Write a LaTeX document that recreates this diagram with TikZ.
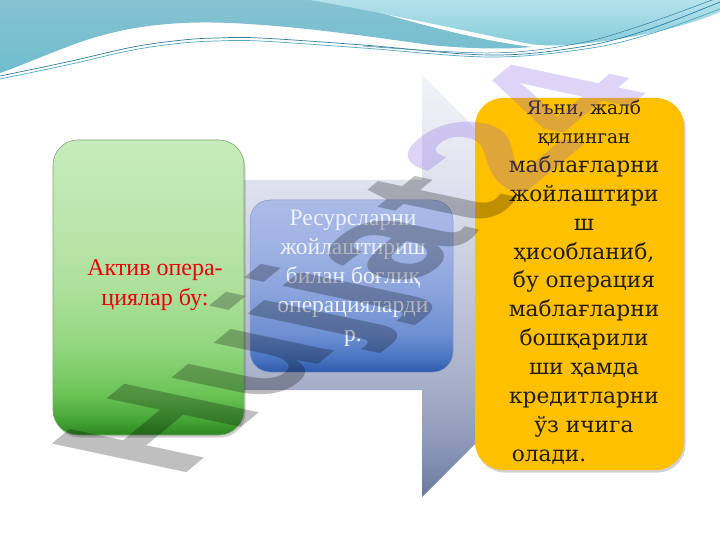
\documentclass[tikz,border=0pt]{standalone}
\usepackage{fontspec}
\setmainfont{Liberation Serif}
\newfontfamily\dvserif{DejaVu Serif}
\newfontfamily\wmsans{Liberation Sans}
\usetikzlibrary{shadows}

\definecolor{gold}{HTML}{FFC000}
\definecolor{txtRed}{HTML}{E8000B}
\definecolor{txtWhite}{HTML}{EEF2FA}
\definecolor{txtDark}{HTML}{221D14}
\definecolor{waveLine}{HTML}{2E7FA3}
\definecolor{waveLineB}{HTML}{4FA8C4}
\definecolor{wmPurple}{HTML}{7D55E1}
\definecolor{tealA}{HTML}{86C2D1}
\definecolor{tealB}{HTML}{6FBDCE}
\definecolor{tealC}{HTML}{B5E2EA}
\definecolor{tealD}{HTML}{86CCDA}

\definecolor{g1}{HTML}{2C8620}
\definecolor{g2}{HTML}{45A436}
\definecolor{g3}{HTML}{6CC457}
\definecolor{g4}{HTML}{92D67E}
\definecolor{g5}{HTML}{AEE09C}
\definecolor{g6}{HTML}{BCE6AE}
\definecolor{g7}{HTML}{C6ECBB}
\pgfdeclareverticalshading{greenfill}{100bp}{color(0bp)=(g1); color(25bp)=(g1); color(27.5bp)=(g2); color(32bp)=(g3); color(40bp)=(g4); color(50bp)=(g5); color(62bp)=(g6); color(75bp)=(g7); color(100bp)=(g7)}

\definecolor{b1}{HTML}{2D5AAA}
\definecolor{b2}{HTML}{4A74C2}
\definecolor{b3}{HTML}{6E8FD2}
\definecolor{b4}{HTML}{8AA3DC}
\definecolor{b5}{HTML}{A0B3E4}
\definecolor{b6}{HTML}{AABBE8}
\pgfdeclareverticalshading{bluefill}{100bp}{color(0bp)=(b1); color(25bp)=(b1); color(29bp)=(b2); color(36bp)=(b3); color(48bp)=(b4); color(62bp)=(b5); color(75bp)=(b6); color(100bp)=(b6)}

\definecolor{a1}{HTML}{6A79A0}
\definecolor{a2}{HTML}{8C97B8}
\definecolor{a3}{HTML}{A6AEC8}
\definecolor{a4}{HTML}{C3C9DC}
\definecolor{a5}{HTML}{DFE2EE}
\definecolor{a6}{HTML}{F2F3F9}
\pgfdeclareverticalshading{arrowfill}{100bp}{color(0bp)=(a1); color(25bp)=(a1); color(31bp)=(a2); color(38bp)=(a3); color(50bp)=(a4); color(62bp)=(a5); color(75bp)=(a6); color(100bp)=(a6)}

\begin{document}
\begin{tikzpicture}[x=1pt,y=-1pt,
  boxshadow/.style={drop shadow={shadow xshift=1.5pt, shadow yshift=-2.5pt, opacity=0.18, fill=black}},
  gbox/.style={rounded corners=25pt, shading=greenfill, draw={rgb,255:red,127;green,168;blue,120}, line width=0.6pt, minimum width=191pt, minimum height=295pt, inner sep=0, boxshadow},
  bbox/.style={rounded corners=20pt, shading=bluefill, draw={rgb,255:red,140;green,156;blue,200}, line width=0.5pt, minimum width=203pt, minimum height=172pt, inner sep=0},
  obox/.style={rounded corners=28pt, fill=gold, minimum width=209pt, minimum height=372pt, inner sep=0, boxshadow},
  gtext/.style={align=center, inner sep=0, text=txtRed, font=\fontsize{24}{30}\selectfont},
  btext/.style={align=center, inner sep=0, text=txtWhite, font=\fontsize{23.5}{29}\selectfont},
  otext/.style={align=center, inner sep=0, text=txtDark, font=\dvserif\fontsize{21.7}{28.9}\selectfont},
  wave/.style={line width=0.7pt, smooth, tension=0.6}
]
\useasboundingbox (0,0) rectangle (720,540);
\clip (0,0) rectangle (720,540);
\fill[white] (0,0) rectangle (720,540);

% top decoration
\shade[top color=tealA, bottom color=tealB] (0,0) -- (335,0) .. controls (390,15) and (460,38) .. (532,47) .. controls (500,50) and (460,48) .. (430,45) .. controls (380,38) and (300,26) .. (230,23) .. controls (160,20) and (110,30) .. (67,47) .. controls (40,57) and (20,66) .. (0,73) -- cycle;
\shade[top color=tealC, bottom color=tealD] (310,0) -- (720,0) -- (720,12) .. controls (690,25) and (640,38) .. (580,44) .. controls (560,46) and (545,46) .. (530,44) .. controls (470,32) and (380,12) .. (310,0) -- cycle;
\draw[wave, waveLine] plot coordinates {(0,76) (67,62) (133,47) (183,40) (217,38) (260,38) (363,45) (490,55) (580,47) (647,30) (720,2)};
\draw[wave, waveLineB] plot coordinates {(0,79) (67,65) (133,50) (183,43) (217,41) (260,41) (363,48) (490,57) (585,49) (650,34) (720,9)};
\draw[wave, waveLine, line width=0.5pt] plot coordinates {(363,46) (490,53) (575,44) (640,26) (720,-3)};

% big background arrow
\shade[shading=arrowfill] (120,180) -- (422,180) -- (422,75) -- (633,286) -- (422,497) -- (422,390) -- (120,390) -- cycle;

% boxes
\node[gbox] (green) at (148.5,287.5) {};
\node[bbox] (blue) at (351.5,286) {};
\node[obox] (orange) at (579.5,284) {};

% texts
\node[gtext, anchor=north] (gt) at (155,259) {Актив опера-\\циялар бу:};
\node[btext, anchor=north] (bt) at (353,210.4) {Ресурсларни\\жойлаштириш\\билан боғлиқ\\операцияларди\\р.};
\node[otext, anchor=north] (ot) at (584,100) {\fontsize{18.5}{28.9}\selectfont Яъни, жалб\\\fontsize{18.5}{28.9}\selectfont қилинган\\маблағларни\\жойлаштири\\ш\\ҳисобланиб,\\бу операция\\маблағларни\\бошқарили\\ши ҳамда\\кредитларни\\ўз ичига\\олади.\hspace*{70pt}};

% watermark
\begin{scope}[cm={1.234,1.019,-1.956,0.416,(178pt,-480pt)}]
\node[transform shape, anchor=base west, inner sep=0, opacity=0.25, font=\wmsans\bfseries\fontsize{100}{100}\selectfont] (wm) at (0,0) {\textcolor{black}{Hujjat}\textcolor{wmPurple}{24}};
\end{scope}
\end{tikzpicture}
\end{document}
